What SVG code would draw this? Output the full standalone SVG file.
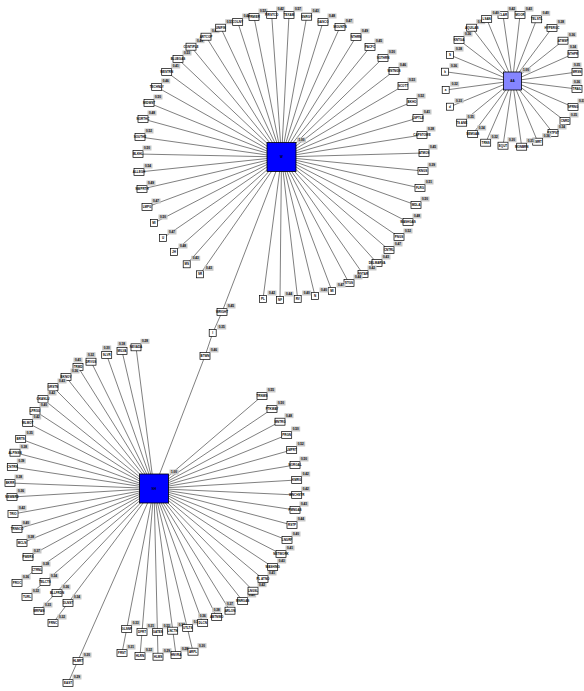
<svg xmlns="http://www.w3.org/2000/svg" xmlns:xlink="http://www.w3.org/1999/xlink" width="584" height="691" viewBox="0 0 584 691">
<style>
.e line{stroke:#2a2a2a;stroke-width:0.6}
text{font-family:"Liberation Sans",Arial,sans-serif;font-size:3px;font-weight:bold;text-anchor:middle;fill:#000}
.v{font-size:3px}
.hub{stroke:#000;stroke-width:0.8}
</style>
<defs>
<rect id="bx" x="-5" y="-3.5" width="10" height="7" fill="#fff" stroke="#000" stroke-width="0.7"/>
<rect id="sq" x="-3.5" y="-3.5" width="7" height="7" fill="#fff" stroke="#000" stroke-width="0.7"/>
<rect id="lb" x="4.5" y="-8.5" width="9" height="5" fill="#c8c8c8"/>
<rect id="lt" x="-4.5" y="-9.5" width="9" height="5" fill="#c8c8c8"/>
</defs>
<rect width="584" height="691" fill="#fff"/>
<g id="connectors" class="e">
<line x1="281.5" y1="157" x2="140" y2="137"/><line x1="281.5" y1="157" x2="143" y2="119"/><line x1="281.5" y1="157" x2="149" y2="103"/><line x1="281.5" y1="157" x2="156.7" y2="87"/><line x1="281.5" y1="157" x2="166.7" y2="72"/><line x1="281.5" y1="157" x2="178" y2="59"/><line x1="281.5" y1="157" x2="191" y2="46.7"/><line x1="281.5" y1="157" x2="206" y2="36.7"/><line x1="281.5" y1="157" x2="220.7" y2="27.7"/><line x1="281.5" y1="157" x2="237.7" y2="22"/><line x1="281.5" y1="157" x2="254" y2="17"/><line x1="281.5" y1="157" x2="271.7" y2="15"/><line x1="281.5" y1="157" x2="289" y2="15"/><line x1="281.5" y1="157" x2="306.7" y2="16.7"/><line x1="281.5" y1="157" x2="323" y2="22"/><line x1="281.5" y1="157" x2="340" y2="27"/><line x1="281.5" y1="157" x2="356" y2="37"/><line x1="281.5" y1="157" x2="370" y2="47"/><line x1="281.5" y1="157" x2="383" y2="58"/><line x1="281.5" y1="157" x2="394" y2="71"/><line x1="281.5" y1="157" x2="403" y2="86"/><line x1="281.5" y1="157" x2="412" y2="102"/><line x1="281.5" y1="157" x2="418" y2="118"/><line x1="281.5" y1="157" x2="422" y2="135"/><line x1="281.5" y1="157" x2="424" y2="153"/><line x1="281.5" y1="157" x2="423" y2="171"/><line x1="281.5" y1="157" x2="420" y2="188"/><line x1="281.5" y1="157" x2="416" y2="205"/><line x1="281.5" y1="157" x2="408" y2="222"/><line x1="281.5" y1="157" x2="399" y2="237"/><line x1="281.5" y1="157" x2="389" y2="250"/><line x1="281.5" y1="157" x2="377" y2="263"/><line x1="281.5" y1="157" x2="363" y2="274"/><line x1="281.5" y1="157" x2="349" y2="283"/><line x1="281.5" y1="157" x2="332" y2="291"/><line x1="281.5" y1="157" x2="315" y2="296"/><line x1="281.5" y1="157" x2="297.7" y2="299"/><line x1="281.5" y1="157" x2="280" y2="300"/><line x1="281.5" y1="157" x2="263" y2="299"/><line x1="281.5" y1="157" x2="200" y2="274.3"/><line x1="281.5" y1="157" x2="186.7" y2="264.3"/><line x1="281.5" y1="157" x2="174" y2="252"/><line x1="281.5" y1="157" x2="163" y2="238"/><line x1="281.5" y1="157" x2="154" y2="223"/><line x1="281.5" y1="157" x2="147" y2="207"/><line x1="281.5" y1="157" x2="142" y2="189"/><line x1="281.5" y1="157" x2="139" y2="172"/><line x1="281.5" y1="157" x2="138" y2="154"/>
<line x1="281.5" y1="157" x2="222" y2="312"/><line x1="222" y1="312" x2="212.7" y2="333"/><line x1="212.7" y1="333" x2="205" y2="356"/><line x1="205" y1="356" x2="154" y2="488.5"/>
<line x1="154" y1="488.5" x2="136" y2="347.3"/><line x1="154" y1="488.5" x2="122" y2="351"/><line x1="154" y1="488.5" x2="106.7" y2="355"/><line x1="154" y1="488.5" x2="91" y2="361.7"/><line x1="154" y1="488.5" x2="78" y2="367"/><line x1="154" y1="488.5" x2="66" y2="377"/><line x1="154" y1="488.5" x2="53" y2="387"/><line x1="154" y1="488.5" x2="43" y2="399"/><line x1="154" y1="488.5" x2="35" y2="411"/><line x1="154" y1="488.5" x2="27.7" y2="423"/><line x1="154" y1="488.5" x2="20.7" y2="439"/><line x1="154" y1="488.5" x2="15" y2="452.7"/><line x1="154" y1="488.5" x2="12.3" y2="467"/><line x1="154" y1="488.5" x2="10" y2="483"/><line x1="154" y1="488.5" x2="12" y2="497"/><line x1="154" y1="488.5" x2="13" y2="514"/><line x1="154" y1="488.5" x2="17" y2="529"/><line x1="154" y1="488.5" x2="22" y2="543"/><line x1="154" y1="488.5" x2="28" y2="557"/><line x1="154" y1="488.5" x2="17" y2="583"/><line x1="154" y1="488.5" x2="27" y2="597"/><line x1="154" y1="488.5" x2="39" y2="611"/><line x1="154" y1="488.5" x2="53" y2="623"/><line x1="154" y1="488.5" x2="68" y2="683"/><line x1="154" y1="488.5" x2="122" y2="653"/><line x1="154" y1="488.5" x2="140" y2="656"/><line x1="154" y1="488.5" x2="158" y2="656.7"/><line x1="154" y1="488.5" x2="176" y2="655"/><line x1="154" y1="488.5" x2="193" y2="651.7"/><line x1="154" y1="488.5" x2="202.7" y2="623"/><line x1="154" y1="488.5" x2="216.7" y2="617"/><line x1="154" y1="488.5" x2="230" y2="610.7"/><line x1="154" y1="488.5" x2="242.7" y2="601"/><line x1="154" y1="488.5" x2="253" y2="590.7"/><line x1="154" y1="488.5" x2="263" y2="579"/><line x1="154" y1="488.5" x2="272.7" y2="567"/><line x1="154" y1="488.5" x2="281" y2="554"/><line x1="154" y1="488.5" x2="287" y2="540"/><line x1="154" y1="488.5" x2="292" y2="525"/><line x1="154" y1="488.5" x2="295" y2="510"/><line x1="154" y1="488.5" x2="296.7" y2="495"/><line x1="154" y1="488.5" x2="296.7" y2="480"/><line x1="154" y1="488.5" x2="295" y2="465"/><line x1="154" y1="488.5" x2="291.7" y2="450"/><line x1="154" y1="488.5" x2="286.7" y2="435"/><line x1="154" y1="488.5" x2="280" y2="421.7"/><line x1="154" y1="488.5" x2="272" y2="409"/><line x1="154" y1="488.5" x2="262" y2="396"/>
<line x1="512.5" y1="81" x2="503" y2="15"/><line x1="512.5" y1="81" x2="520" y2="15"/><line x1="512.5" y1="81" x2="536.7" y2="19.3"/><line x1="512.5" y1="81" x2="552" y2="28"/><line x1="512.5" y1="81" x2="563" y2="40.7"/><line x1="512.5" y1="81" x2="573" y2="54"/><line x1="512.5" y1="81" x2="577" y2="72"/><line x1="512.5" y1="81" x2="577" y2="89"/><line x1="512.5" y1="81" x2="573" y2="107"/><line x1="512.5" y1="81" x2="565" y2="121"/><line x1="512.5" y1="81" x2="553" y2="133"/><line x1="512.5" y1="81" x2="537.7" y2="141.7"/><line x1="512.5" y1="81" x2="521.7" y2="146.7"/><line x1="512.5" y1="81" x2="503" y2="145.7"/><line x1="512.5" y1="81" x2="485.7" y2="142.7"/><line x1="512.5" y1="81" x2="472.7" y2="134"/><line x1="512.5" y1="81" x2="461.7" y2="122.7"/><line x1="512.5" y1="81" x2="450" y2="106.7"/><line x1="512.5" y1="81" x2="445.7" y2="90"/><line x1="512.5" y1="81" x2="445" y2="71.7"/><line x1="512.5" y1="81" x2="450" y2="55"/><line x1="512.5" y1="81" x2="459" y2="40"/><line x1="512.5" y1="81" x2="471.7" y2="27.7"/><line x1="512.5" y1="81" x2="486.7" y2="19"/>
</g>
<g id="hubs">
<g id="hubW"><rect class="hub" x="267" y="142.5" width="29" height="29" fill="#0000ff"/><text x="281.5" y="158">W</text><rect x="297" y="137.5" width="9" height="5" fill="#c8c8c8"/><text class="v" x="301.5" y="141.1">1.00</text></g>
<g id="hubNH"><rect class="hub" x="139.5" y="474" width="29" height="29" fill="#0000ff"/><text x="154" y="489.5">NH</text><rect x="169.5" y="469.5" width="9" height="5" fill="#c8c8c8"/><text class="v" x="174" y="473.1">1.00</text></g>
<g id="hubAA"><rect class="hub" x="503.5" y="72" width="18" height="18" fill="#8585ff"/><text x="512.5" y="82">AA</text><rect x="521.5" y="67.5" width="9" height="5" fill="#c8c8c8"/><text class="v" x="526" y="71.1">1.00</text></g>
</g>
<g id="nodes">
<g id="a1" transform="translate(140,137)"><use href="#bx"/><text y="1.1">SOUTHE</text><use href="#lb"/><text class="v" x="9" y="-4.9">0.52</text></g>
<g id="a2" transform="translate(143,119)"><use href="#bx"/><text y="1.1">NORTHC</text><use href="#lb"/><text class="v" x="9" y="-4.9">0.48</text></g>
<g id="a3" transform="translate(149,103)"><use href="#bx"/><text y="1.1">MIDWST</text><use href="#lb"/><text class="v" x="9" y="-4.9">0.50</text></g>
<g id="a4" transform="translate(156.7,87)"><use href="#bx"/><text y="1.1">TECHNLY</text><use href="#lb"/><text class="v" x="9" y="-4.9">0.46</text></g>
<g id="a5" transform="translate(166.7,72)"><use href="#bx"/><text y="1.1">WESTRN</text><use href="#lb"/><text class="v" x="9" y="-4.9">0.41</text></g>
<g id="a6" transform="translate(178,59)"><use href="#bx"/><text y="1.1">BLUEGAS</text><use href="#lb"/><text class="v" x="9" y="-4.9">0.53</text></g>
<g id="a7" transform="translate(191,46.7)"><use href="#bx"/><text y="1.1">CONTIPLE</text><use href="#lb"/><text class="v" x="9" y="-4.9">0.49</text></g>
<g id="a8" transform="translate(206,36.7)"><use href="#bx"/><text y="1.1">ARTCOP</text><use href="#lb"/><text class="v" x="9" y="-4.9">0.47</text></g>
<g id="a9" transform="translate(220.7,27.7)"><use href="#bx"/><text y="1.1">UNIFIN</text><use href="#lb"/><text class="v" x="9" y="-4.9">0.51</text></g>
<g id="a10" transform="translate(237.7,22)"><use href="#bx"/><text y="1.1">COLNY</text><use href="#lb"/><text class="v" x="9" y="-4.9">0.44</text></g>
<g id="a11" transform="translate(254,17)"><use href="#bx"/><text y="1.1">PRMIER</text><use href="#lb"/><text class="v" x="9" y="-4.9">0.52</text></g>
<g id="a12" transform="translate(271.7,15)"><use href="#bx"/><text y="1.1">FIRSTCO</text><use href="#lb"/><text class="v" x="9" y="-4.9">0.42</text></g>
<g id="a13" transform="translate(289,15)"><use href="#bx"/><text y="1.1">TEXAM</text><use href="#lb"/><text class="v" x="9" y="-4.9">0.57</text></g>
<g id="a14" transform="translate(306.7,16.7)"><use href="#bx"/><text y="1.1">ENRGY</text><use href="#lb"/><text class="v" x="9" y="-4.9">0.43</text></g>
<g id="a15" transform="translate(323,22)"><use href="#bx"/><text y="1.1">GASCO</text><use href="#lb"/><text class="v" x="9" y="-4.9">0.48</text></g>
<g id="a16" transform="translate(340,27)"><use href="#bx"/><text y="1.1">MOUNTN</text><use href="#lb"/><text class="v" x="9" y="-4.9">0.47</text></g>
<g id="a17" transform="translate(356,37)"><use href="#bx"/><text y="1.1">NTHRN</text><use href="#lb"/><text class="v" x="9" y="-4.9">0.49</text></g>
<g id="a18" transform="translate(370,47)"><use href="#bx"/><text y="1.1">PACFC</text><use href="#lb"/><text class="v" x="9" y="-4.9">0.45</text></g>
<g id="a19" transform="translate(383,58)"><use href="#bx"/><text y="1.1">SOTHRN</text><use href="#lb"/><text class="v" x="9" y="-4.9">0.50</text></g>
<g id="a20" transform="translate(394,71)"><use href="#bx"/><text y="1.1">WSTNGS</text><use href="#lb"/><text class="v" x="9" y="-4.9">0.46</text></g>
<g id="a21" transform="translate(403,86)"><use href="#bx"/><text y="1.1">SCOTT</text><use href="#lb"/><text class="v" x="9" y="-4.9">0.53</text></g>
<g id="a22" transform="translate(412,102)"><use href="#bx"/><text y="1.1">BKHO</text><use href="#lb"/><text class="v" x="9" y="-4.9">0.52</text></g>
<g id="a23" transform="translate(418,118)"><use href="#bx"/><text y="1.1">LSPTLE</text><use href="#lb"/><text class="v" x="9" y="-4.9">0.41</text></g>
<g id="a24" transform="translate(422,135)"><use href="#bx"/><text y="1.1">CAPSTOWE</text><use href="#lb"/><text class="v" x="9" y="-4.9">0.38</text></g>
<g id="a25" transform="translate(424,153)"><use href="#bx"/><text y="1.1">ATMOS</text><use href="#lb"/><text class="v" x="9" y="-4.9">0.45</text></g>
<g id="a26" transform="translate(423,171)"><use href="#bx"/><text y="1.1">KNGS</text><use href="#lb"/><text class="v" x="9" y="-4.9">0.39</text></g>
<g id="a27" transform="translate(420,188)"><use href="#bx"/><text y="1.1">FLRG</text><use href="#lb"/><text class="v" x="9" y="-4.9">0.51</text></g>
<g id="a28" transform="translate(416,205)"><use href="#bx"/><text y="1.1">MDLA</text><use href="#lb"/><text class="v" x="9" y="-4.9">0.50</text></g>
<g id="a29" transform="translate(408,222)"><use href="#bx"/><text y="1.1">WASHGAS</text><use href="#lb"/><text class="v" x="9" y="-4.9">0.48</text></g>
<g id="a30" transform="translate(399,237)"><use href="#bx"/><text y="1.1">PNGS</text><use href="#lb"/><text class="v" x="9" y="-4.9">0.52</text></g>
<g id="a31" transform="translate(389,250)"><use href="#bx"/><text y="1.1">CNTRL</text><use href="#lb"/><text class="v" x="9" y="-4.9">0.47</text></g>
<g id="a32" transform="translate(377,263)"><use href="#bx"/><text y="1.1">DELMARVA</text><use href="#lb"/><text class="v" x="9" y="-4.9">0.43</text></g>
<g id="a33" transform="translate(363,274)"><use href="#bx"/><text y="1.1">NSTAR</text><use href="#lb"/><text class="v" x="9" y="-4.9">0.42</text></g>
<g id="a34" transform="translate(349,283)"><use href="#bx"/><text y="1.1">ETGS</text><use href="#lb"/><text class="v" x="9" y="-4.9">0.44</text></g>
<g id="a35" transform="translate(332,291)"><use href="#sq"/><text y="1.1">MI</text><use href="#lb"/><text class="v" x="9" y="-4.9">0.47</text></g>
<g id="a36" transform="translate(315,296)"><use href="#sq"/><text y="1.1">N</text><use href="#lb"/><text class="v" x="9" y="-4.9">0.40</text></g>
<g id="a37" transform="translate(297.7,299)"><use href="#sq"/><text y="1.1">RV</text><use href="#lb"/><text class="v" x="9" y="-4.9">0.40</text></g>
<g id="a38" transform="translate(280,300)"><use href="#sq"/><text y="1.1">NF</text><use href="#lb"/><text class="v" x="9" y="-4.9">0.44</text></g>
<g id="a39" transform="translate(263,299)"><use href="#sq"/><text y="1.1">PL</text><use href="#lb"/><text class="v" x="9" y="-4.9">0.42</text></g>
<g id="a40" transform="translate(200,274.3)"><use href="#sq"/><text y="1.1">SR</text><use href="#lb"/><text class="v" x="9" y="-4.9">0.43</text></g>
<g id="a41" transform="translate(186.7,264.3)"><use href="#sq"/><text y="1.1">MS</text><use href="#lb"/><text class="v" x="9" y="-4.9">0.43</text></g>
<g id="a42" transform="translate(174,252)"><use href="#sq"/><text y="1.1">JH</text><use href="#lb"/><text class="v" x="9" y="-4.9">0.48</text></g>
<g id="a43" transform="translate(163,238)"><use href="#sq"/><text y="1.1">U</text><use href="#lb"/><text class="v" x="9" y="-4.9">0.47</text></g>
<g id="a44" transform="translate(154,223)"><use href="#sq"/><text y="1.1">MI</text><use href="#lb"/><text class="v" x="9" y="-4.9">0.50</text></g>
<g id="a45" transform="translate(147,207)"><use href="#bx"/><text y="1.1">LMPG</text><use href="#lb"/><text class="v" x="9" y="-4.9">0.47</text></g>
<g id="a46" transform="translate(142,189)"><use href="#bx"/><text y="1.1">NWPRTH</text><use href="#lb"/><text class="v" x="9" y="-4.9">0.49</text></g>
<g id="a47" transform="translate(139,172)"><use href="#bx"/><text y="1.1">ALLEGH</text><use href="#lb"/><text class="v" x="9" y="-4.9">0.54</text></g>
<g id="a48" transform="translate(138,154)"><use href="#bx"/><text y="1.1">BLKHL</text><use href="#lb"/><text class="v" x="9" y="-4.9">0.50</text></g>
<g id="c1" transform="translate(222,312)"><use href="#bx"/><text y="1.1">WRIGHT</text><use href="#lb"/><text class="v" x="9" y="-4.9">0.45</text></g>
<g id="c2" transform="translate(212.7,333)"><use href="#sq"/><text y="1.1">I</text><use href="#lb"/><text class="v" x="9" y="-4.9">0.35</text></g>
<g id="c3" transform="translate(205,356)"><use href="#bx"/><text y="1.1">BTWN</text><use href="#lb"/><text class="v" x="9" y="-4.9">0.46</text></g>
<g id="b1" transform="translate(136,347.3)"><use href="#bx"/><text y="1.1">NEVADA</text><use href="#lb"/><text class="v" x="9" y="-4.9">0.28</text></g>
<g id="b2" transform="translate(122,351)"><use href="#bx"/><text y="1.1">MILVA</text><use href="#lt"/><text class="v" y="-5.9">0.18</text></g>
<g id="b3" transform="translate(106.7,355)"><use href="#bx"/><text y="1.1">SLVR</text><use href="#lt"/><text class="v" y="-5.9">0.30</text></g>
<g id="b4" transform="translate(91,361.7)"><use href="#bx"/><text y="1.1">DRVGS</text><use href="#lt"/><text class="v" y="-5.9">0.32</text></g>
<g id="b5" transform="translate(78,367)"><use href="#bx"/><text y="1.1">TRMD</text><use href="#lt"/><text class="v" y="-5.9">0.41</text></g>
<g id="b6" transform="translate(66,377)"><use href="#bx"/><text y="1.1">BKNOV</text><use href="#lb"/><text class="v" x="9" y="-4.9">0.36</text></g>
<g id="b7" transform="translate(53,387)"><use href="#bx"/><text y="1.1">GRSTN</text><use href="#lb"/><text class="v" x="9" y="-4.9">0.43</text></g>
<g id="b8" transform="translate(43,399)"><use href="#bx"/><text y="1.1">OKANLU</text><use href="#lb"/><text class="v" x="9" y="-4.9">0.42</text></g>
<g id="b9" transform="translate(35,411)"><use href="#bx"/><text y="1.1">LPRGU</text><use href="#lb"/><text class="v" x="9" y="-4.9">0.40</text></g>
<g id="b10" transform="translate(27.7,423)"><use href="#bx"/><text y="1.1">WLMOT</text><use href="#lb"/><text class="v" x="9" y="-4.9">0.42</text></g>
<g id="b11" transform="translate(20.7,439)"><use href="#bx"/><text y="1.1">BRTS</text><use href="#lb"/><text class="v" x="9" y="-4.9">0.35</text></g>
<g id="b12" transform="translate(15,452.7)"><use href="#bx"/><text y="1.1">ALPINSN</text><use href="#lb"/><text class="v" x="9" y="-4.9">0.38</text></g>
<g id="b13" transform="translate(12.3,467)"><use href="#bx"/><text y="1.1">CNTRN</text><use href="#lb"/><text class="v" x="9" y="-4.9">0.39</text></g>
<g id="b14" transform="translate(10,483)"><use href="#bx"/><text y="1.1">BKRR</text><use href="#lb"/><text class="v" x="9" y="-4.9">0.38</text></g>
<g id="b15" transform="translate(12,497)"><use href="#bx"/><text y="1.1">NEWBRD</text><use href="#lb"/><text class="v" x="9" y="-4.9">0.36</text></g>
<g id="b16" transform="translate(13,514)"><use href="#bx"/><text y="1.1">TRIO</text><use href="#lb"/><text class="v" x="9" y="-4.9">0.42</text></g>
<g id="b17" transform="translate(17,529)"><use href="#bx"/><text y="1.1">TRNSCO</text><use href="#lb"/><text class="v" x="9" y="-4.9">0.40</text></g>
<g id="b18" transform="translate(22,543)"><use href="#bx"/><text y="1.1">MCLN</text><use href="#lb"/><text class="v" x="9" y="-4.9">0.38</text></g>
<g id="b19" transform="translate(28,557)"><use href="#bx"/><text y="1.1">PWERS</text><use href="#lb"/><text class="v" x="9" y="-4.9">0.37</text></g>
<g id="b20" transform="translate(37,570)"><use href="#bx"/><text y="1.1">CTRNL</text><use href="#lb"/><text class="v" x="9" y="-4.9">0.38</text></g>
<g id="b21" transform="translate(45,582)"><use href="#bx"/><text y="1.1">TELCTS</text><use href="#lb"/><text class="v" x="9" y="-4.9">0.34</text></g>
<g id="b22" transform="translate(57,593)"><use href="#bx"/><text y="1.1">BLLFRDN</text><use href="#lb"/><text class="v" x="9" y="-4.9">0.36</text></g>
<g id="b23" transform="translate(68,603)"><use href="#bx"/><text y="1.1">DLNST</text><use href="#lb"/><text class="v" x="9" y="-4.9">0.34</text></g>
<g id="b24" transform="translate(17,583)"><use href="#bx"/><text y="1.1">PROC</text><use href="#lb"/><text class="v" x="9" y="-4.9">0.36</text></g>
<g id="b25" transform="translate(27,597)"><use href="#bx"/><text y="1.1">TURL</text><use href="#lb"/><text class="v" x="9" y="-4.9">0.32</text></g>
<g id="b26" transform="translate(39,611)"><use href="#bx"/><text y="1.1">MRPAN</text><use href="#lb"/><text class="v" x="9" y="-4.9">0.33</text></g>
<g id="b27" transform="translate(53,623)"><use href="#bx"/><text y="1.1">FRNC</text><use href="#lb"/><text class="v" x="9" y="-4.9">0.32</text></g>
<g id="b28" transform="translate(78,661)"><use href="#bx"/><text y="1.1">HLBRT</text><use href="#lb"/><text class="v" x="9" y="-4.9">0.30</text></g>
<g id="b29" transform="translate(68,683)"><use href="#bx"/><text y="1.1">EAST</text><use href="#lb"/><text class="v" x="9" y="-4.9">0.29</text></g>
<g id="b30" transform="translate(126.7,629)"><use href="#bx"/><text y="1.1">GLSNF</text><use href="#lb"/><text class="v" x="9" y="-4.9">0.33</text></g>
<g id="b31" transform="translate(122,653)"><use href="#bx"/><text y="1.1">FRST</text><use href="#lb"/><text class="v" x="9" y="-4.9">0.31</text></g>
<g id="b32" transform="translate(142,632)"><use href="#bx"/><text y="1.1">DFRT</text><use href="#lb"/><text class="v" x="9" y="-4.9">0.31</text></g>
<g id="b33" transform="translate(140,656)"><use href="#bx"/><text y="1.1">HLRN</text><use href="#lb"/><text class="v" x="9" y="-4.9">0.32</text></g>
<g id="b34" transform="translate(157.7,632)"><use href="#bx"/><text y="1.1">GATES</text><use href="#lb"/><text class="v" x="9" y="-4.9">0.33</text></g>
<g id="b35" transform="translate(158,656.7)"><use href="#bx"/><text y="1.1">HLMS</text><use href="#lb"/><text class="v" x="9" y="-4.9">0.29</text></g>
<g id="b36" transform="translate(172.7,630.7)"><use href="#bx"/><text y="1.1">LNCTN</text><use href="#lb"/><text class="v" x="9" y="-4.9">0.34</text></g>
<g id="b37" transform="translate(176,655)"><use href="#bx"/><text y="1.1">HNVRA</text><use href="#lb"/><text class="v" x="9" y="-4.9">0.28</text></g>
<g id="b38" transform="translate(187.7,628)"><use href="#bx"/><text y="1.1">UTLTS</text><use href="#lb"/><text class="v" x="9" y="-4.9">0.33</text></g>
<g id="b39" transform="translate(193,651.7)"><use href="#bx"/><text y="1.1">ARPL</text><use href="#lb"/><text class="v" x="9" y="-4.9">0.30</text></g>
<g id="b40" transform="translate(202.7,623)"><use href="#bx"/><text y="1.1">DLCN</text><use href="#lt"/><text class="v" y="-5.9">0.36</text></g>
<g id="b41" transform="translate(216.7,617)"><use href="#bx"/><text y="1.1">ABTNWO</text><use href="#lt"/><text class="v" y="-5.9">0.38</text></g>
<g id="b42" transform="translate(230,610.7)"><use href="#bx"/><text y="1.1">ARLON</text><use href="#lt"/><text class="v" y="-5.9">0.37</text></g>
<g id="b43" transform="translate(242.7,601)"><use href="#bx"/><text y="1.1">MNRGAS</text><use href="#lb"/><text class="v" x="9" y="-4.9">0.40</text></g>
<g id="b44" transform="translate(253,590.7)"><use href="#bx"/><text y="1.1">LNGSL</text><use href="#lb"/><text class="v" x="9" y="-4.9">0.42</text></g>
<g id="b45" transform="translate(263,579)"><use href="#bx"/><text y="1.1">PL ATNO</text><use href="#lb"/><text class="v" x="9" y="-4.9">0.41</text></g>
<g id="b46" transform="translate(272.7,567)"><use href="#bx"/><text y="1.1">WASHING</text><use href="#lb"/><text class="v" x="9" y="-4.9">0.43</text></g>
<g id="b47" transform="translate(281,554)"><use href="#bx"/><text y="1.1">NETWORK</text><use href="#lb"/><text class="v" x="9" y="-4.9">0.41</text></g>
<g id="b48" transform="translate(287,540)"><use href="#bx"/><text y="1.1">LNGRF</text><use href="#lb"/><text class="v" x="9" y="-4.9">0.40</text></g>
<g id="b49" transform="translate(292,525)"><use href="#bx"/><text y="1.1">RSTP</text><use href="#lb"/><text class="v" x="9" y="-4.9">0.44</text></g>
<g id="b50" transform="translate(295,510)"><use href="#bx"/><text y="1.1">PMNGAS</text><use href="#lb"/><text class="v" x="9" y="-4.9">0.43</text></g>
<g id="b51" transform="translate(296.7,495)"><use href="#bx"/><text y="1.1">WNCHSTR</text><use href="#lb"/><text class="v" x="9" y="-4.9">0.42</text></g>
<g id="b52" transform="translate(296.7,480)"><use href="#bx"/><text y="1.1">KMRG</text><use href="#lb"/><text class="v" x="9" y="-4.9">0.42</text></g>
<g id="b53" transform="translate(295,465)"><use href="#bx"/><text y="1.1">NORGAL</text><use href="#lb"/><text class="v" x="9" y="-4.9">0.50</text></g>
<g id="b54" transform="translate(291.7,450)"><use href="#bx"/><text y="1.1">LMPRT</text><use href="#lb"/><text class="v" x="9" y="-4.9">0.52</text></g>
<g id="b55" transform="translate(286.7,435)"><use href="#bx"/><text y="1.1">PRGN</text><use href="#lb"/><text class="v" x="9" y="-4.9">0.50</text></g>
<g id="b56" transform="translate(280,421.7)"><use href="#bx"/><text y="1.1">MNTRG</text><use href="#lb"/><text class="v" x="9" y="-4.9">0.48</text></g>
<g id="b57" transform="translate(272,409)"><use href="#bx"/><text y="1.1">PTKWAY</text><use href="#lb"/><text class="v" x="9" y="-4.9">0.50</text></g>
<g id="b58" transform="translate(262,396)"><use href="#bx"/><text y="1.1">TRNWS</text><use href="#lb"/><text class="v" x="9" y="-4.9">0.55</text></g>
<g id="d1" transform="translate(503,15)"><use href="#bx"/><text y="1.1">CLAR</text><use href="#lb"/><text class="v" x="9" y="-4.9">0.42</text></g>
<g id="d2" transform="translate(520,15)"><use href="#bx"/><text y="1.1">MOOR</text><use href="#lb"/><text class="v" x="9" y="-4.9">0.43</text></g>
<g id="d3" transform="translate(536.7,19.3)"><use href="#bx"/><text y="1.1">TELSTL</text><use href="#lb"/><text class="v" x="9" y="-4.9">0.40</text></g>
<g id="d4" transform="translate(552,28)"><use href="#bx"/><text y="1.1">HYPERGC</text><use href="#lb"/><text class="v" x="9" y="-4.9">0.38</text></g>
<g id="d5" transform="translate(563,40.7)"><use href="#bx"/><text y="1.1">ATMSP</text><use href="#lb"/><text class="v" x="9" y="-4.9">0.36</text></g>
<g id="d6" transform="translate(573,54)"><use href="#bx"/><text y="1.1">NTHPR</text><use href="#lt"/><text class="v" y="-5.9">0.34</text></g>
<g id="d7" transform="translate(577,72)"><use href="#bx"/><text y="1.1">MRSN</text><use href="#lt"/><text class="v" y="-5.9">0.35</text></g>
<g id="d8" transform="translate(577,89)"><use href="#bx"/><text y="1.1">TRAIL</text><use href="#lt"/><text class="v" y="-5.9">0.36</text></g>
<g id="d9" transform="translate(573,107)"><use href="#bx"/><text y="1.1">SPRNG</text><use href="#lb"/><text class="v" x="9" y="-4.9">0.33</text></g>
<g id="d10" transform="translate(565,121)"><use href="#bx"/><text y="1.1">CNRD</text><use href="#lb"/><text class="v" x="9" y="-4.9">0.35</text></g>
<g id="d11" transform="translate(553,133)"><use href="#bx"/><text y="1.1">ESTPST</text><use href="#lb"/><text class="v" x="9" y="-4.9">0.34</text></g>
<g id="d12" transform="translate(537.7,141.7)"><use href="#bx"/><text y="1.1">EMRT</text><use href="#lb"/><text class="v" x="9" y="-4.9">0.36</text></g>
<g id="d13" transform="translate(521.7,146.7)"><use href="#bx"/><text y="1.1">MONBRN</text><use href="#lb"/><text class="v" x="9" y="-4.9">0.31</text></g>
<g id="d14" transform="translate(503,145.7)"><use href="#bx"/><text y="1.1">EQUT</text><use href="#lb"/><text class="v" x="9" y="-4.9">0.30</text></g>
<g id="d15" transform="translate(485.7,142.7)"><use href="#bx"/><text y="1.1">TRNS</text><use href="#lb"/><text class="v" x="9" y="-4.9">0.32</text></g>
<g id="d16" transform="translate(472.7,134)"><use href="#bx"/><text y="1.1">SEMGAS</text><use href="#lb"/><text class="v" x="9" y="-4.9">0.34</text></g>
<g id="d17" transform="translate(461.7,122.7)"><use href="#bx"/><text y="1.1">TS ANE</text><use href="#lb"/><text class="v" x="9" y="-4.9">0.35</text></g>
<g id="d18" transform="translate(450,106.7)"><use href="#sq"/><text y="1.1">d</text><use href="#lb"/><text class="v" x="9" y="-4.9">0.33</text></g>
<g id="d19" transform="translate(445.7,90)"><use href="#sq"/><text y="1.1">a</text><use href="#lb"/><text class="v" x="9" y="-4.9">0.32</text></g>
<g id="d20" transform="translate(445,71.7)"><use href="#sq"/><text y="1.1">k</text><use href="#lb"/><text class="v" x="9" y="-4.9">0.36</text></g>
<g id="d21" transform="translate(450,55)"><use href="#sq"/><text y="1.1">S</text><use href="#lb"/><text class="v" x="9" y="-4.9">0.38</text></g>
<g id="d22" transform="translate(459,40)"><use href="#bx"/><text y="1.1">KNTGA</text><use href="#lb"/><text class="v" x="9" y="-4.9">0.36</text></g>
<g id="d23" transform="translate(471.7,27.7)"><use href="#bx"/><text y="1.1">AQUILAS</text><use href="#lb"/><text class="v" x="9" y="-4.9">0.38</text></g>
<g id="d24" transform="translate(486.7,19)"><use href="#bx"/><text y="1.1">LSAN</text><use href="#lb"/><text class="v" x="9" y="-4.9">0.40</text></g>
</g>
</svg>
